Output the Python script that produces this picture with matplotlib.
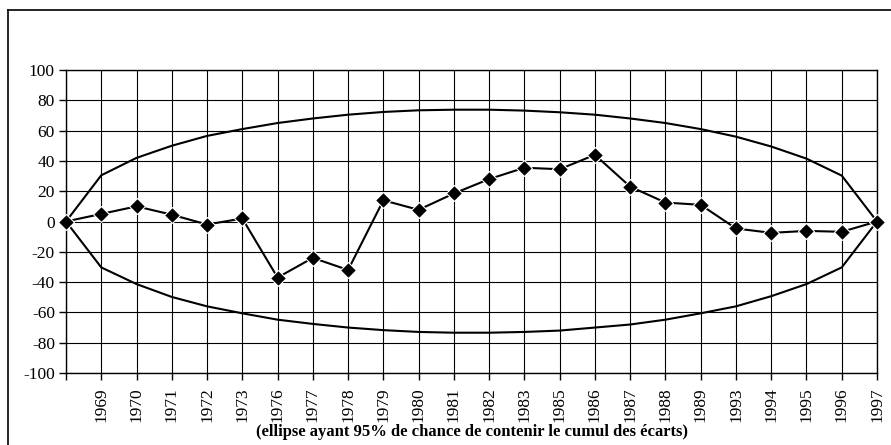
import matplotlib.pyplot as plt
from matplotlib.lines import Line2D

plt.rcParams['font.family'] = ['Liberation Serif', 'DejaVu Serif']
plt.rcParams['axes.unicode_minus'] = False

years = ["", "1969", "1970", "1971", "1972", "1973", "1976", "1977", "1978",
         "1979", "1980", "1981", "1982", "1983", "1985", "1986", "1987",
         "1988", "1989", "1993", "1994", "1995", "1996", "1997"]

cumul = [0, 5, 10, 4.5, -2, 2, -37, -24, -32, 14, 7.7, 18.5, 28, 35.5,
         34.5, 44, 23, 12.5, 11, -4.6, -7.5, -6.2, -6.8, 0]

upper = [0, 30.5, 42, 50, 56.5, 61, 65, 68, 70.5, 72.3, 73.4, 73.8, 73.8,
         73.2, 72.1, 70.5, 68, 65, 61, 56, 49.5, 41.5, 30.3, 0]

lower = [0, -30.3, -41.3, -49.8, -56, -60.6, -64.8, -67.6, -70, -71.7, -72.9,
         -73.4, -73.4, -72.9, -72, -70, -68, -64.8, -60.6, -56, -49.3, -41.3,
         -30.3, 0]

x = list(range(len(years)))

fig = plt.figure(figsize=(8.91, 4.45), dpi=100)
ax = fig.add_axes([66 / 891, 1 - 373 / 445, 811 / 891, 303 / 445])

ax.plot(x, upper, color='black', lw=1.5, zorder=3)
ax.plot(x, lower, color='black', lw=1.5, zorder=3)
ax.plot(x, cumul, color='black', lw=1.5, marker='D', markersize=8,
        markerfacecolor='black', markeredgecolor='white', markeredgewidth=0.8,
        zorder=4, clip_on=False)

ax.set_xlim(0, len(years) - 1)
ax.set_ylim(-100, 100)
ax.set_yticks(range(-100, 101, 20))
ax.set_xticks(x)
ax.set_xticklabels(years, rotation=90, fontsize=12.5)
ax.tick_params(axis='y', labelsize=12.5, length=5, width=1, pad=3)
ax.tick_params(axis='x', length=5, width=1, pad=5)
ax.grid(True, color='black', lw=0.8)
for s in ax.spines.values():
    s.set_linewidth(1)

ax.set_xlabel("(ellipse ayant 95% de chance de contenir le cumul des écarts)",
              fontsize=12, fontweight='bold', labelpad=2)

# frame around the chart area
fig.add_artist(Line2D([8 / 891, 1], [1 - 10 / 445, 1 - 10 / 445],
                      color='black', lw=1.2, transform=fig.transFigure))
fig.add_artist(Line2D([8 / 891, 8 / 891], [0, 1 - 10 / 445],
                      color='black', lw=1.2, transform=fig.transFigure))

fig.savefig("out.png", dpi=100)
